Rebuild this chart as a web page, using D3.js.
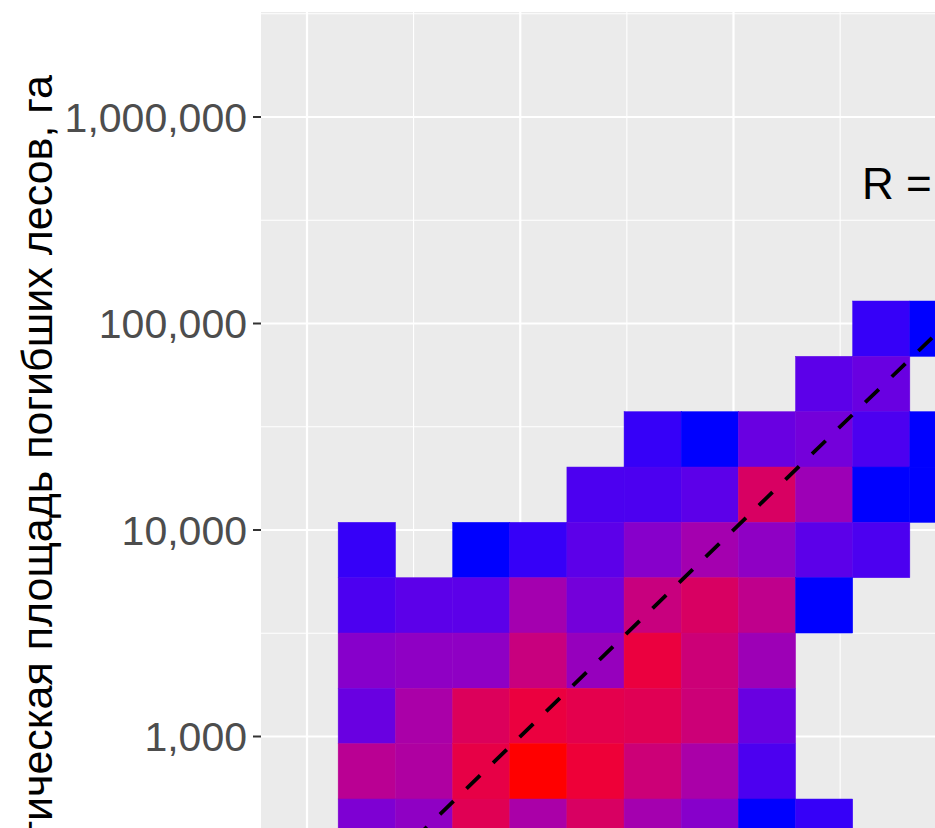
<!DOCTYPE html>
<html>
<head>
<meta charset="utf-8">
<script src="https://cdn.jsdelivr.net/npm/d3@7"></script>
<style>
  body { margin: 0; background: #fff; }
  text { font-family: "Liberation Sans", Arial, sans-serif; }
</style>
</head>
<body>
<script>
// bin edges (ha), log-spaced
var xEdges = [140, 260, 482, 893, 1655, 3068, 5685, 10540, 19540, 36210, 67130, 124400];
var yEdges = [128500, 69340, 37410, 20180, 10890, 5875, 3170, 1710, 923, 498, 268]; // top -> bottom

// counts per bin, rows top -> bottom, 0 = empty
var counts = [
  [0, 0, 0, 0, 0, 0, 0, 0, 0, 2, 1],
  [0, 0, 0, 0, 0, 0, 0, 0, 4, 5, 0],
  [0, 0, 0, 0, 0, 2, 1, 5, 6, 3, 1],
  [0, 0, 0, 0, 3, 3, 4, 23, 11, 1, 1],
  [2, 0, 1, 2, 4, 8, 12, 9, 4, 3, 0],
  [3, 4, 4, 12, 6, 19, 23, 17, 1, 0, 0],
  [8, 9, 9, 19, 10, 28, 20, 11, 0, 0, 0],
  [5, 13, 24, 28, 26, 25, 20, 5, 0, 0, 0],
  [16, 14, 27, 34, 29, 20, 13, 3, 0, 0, 0],
  [7, 9, 25, 13, 23, 12, 8, 1, 2, 0, 0]
];

var yTicks = [1000, 10000, 100000, 1000000];
var yMinor = [3162, 31623, 316228, 3162278];
var xTicks = [100, 1000, 10000, 100000];
var xMinor = [316, 3162, 31623];
var yTitle = "Фактическая площадь погибших лесов, га";
var rLabel = "R =";

var w = 935, h = 828;
var panel = {left: 261, top: 12, right: 1000, bottom: 1000};

var svg = d3.select("body").append("svg")
  .attr("width", w)
  .attr("height", h);

var x = d3.scaleLog().domain([100, 10000]).range([307, 733.5]);
var y = d3.scaleLog().domain([1000, 1000000]).range([736.5, 117]);
var fill = d3.scaleLinear().domain([1, 34]).range(["blue", "red"]).interpolate(d3.interpolateLab);

svg.append("clipPath").attr("id", "clip")
  .append("rect")
  .attr("x", panel.left).attr("y", panel.top)
  .attr("width", panel.right - panel.left).attr("height", panel.bottom - panel.top);

var g = svg.append("g").attr("clip-path", "url(#clip)");

g.append("rect")
  .attr("x", panel.left).attr("y", panel.top)
  .attr("width", panel.right - panel.left).attr("height", panel.bottom - panel.top)
  .attr("fill", "#EBEBEB");

// grid
g.selectAll(".ymin").data(yMinor).enter().append("line")
  .attr("x1", panel.left).attr("x2", panel.right)
  .attr("y1", function(d){ return y(d); }).attr("y2", function(d){ return y(d); })
  .attr("stroke", "#fff").attr("stroke-width", 1.1);
g.selectAll(".xmin").data(xMinor).enter().append("line")
  .attr("y1", panel.top).attr("y2", panel.bottom)
  .attr("x1", function(d){ return x(d); }).attr("x2", function(d){ return x(d); })
  .attr("stroke", "#fff").attr("stroke-width", 1.1);
g.selectAll(".ymaj").data(yTicks).enter().append("line")
  .attr("x1", panel.left).attr("x2", panel.right)
  .attr("y1", function(d){ return y(d); }).attr("y2", function(d){ return y(d); })
  .attr("stroke", "#fff").attr("stroke-width", 2.2);
g.selectAll(".xmaj").data(xTicks).enter().append("line")
  .attr("y1", panel.top).attr("y2", panel.bottom)
  .attr("x1", function(d){ return x(d); }).attr("x2", function(d){ return x(d); })
  .attr("stroke", "#fff").attr("stroke-width", 2.2);

// tiles
var cells = [];
counts.forEach(function(row, i){
  row.forEach(function(c, j){
    if (c > 0) cells.push({x0: xEdges[j], x1: xEdges[j + 1], y0: yEdges[i + 1], y1: yEdges[i], n: c});
  });
});

g.selectAll(".cell").data(cells).enter().append("rect")
  .attr("x", function(d){ return x(d.x0); })
  .attr("y", function(d){ return y(d.y1); })
  .attr("width", function(d){ return x(d.x1) - x(d.x0); })
  .attr("height", function(d){ return y(d.y0) - y(d.y1); })
  .attr("fill", function(d){ return fill(d.n); })
  .attr("stroke", function(d){ return fill(d.n); })
  .attr("stroke-width", 0.5);

// 1:1 line
g.append("line")
  .attr("x1", x(100)).attr("y1", y(100))
  .attr("x2", x(1000000)).attr("y2", y(1000000))
  .attr("stroke", "#000")
  .attr("stroke-width", 3.8)
  .attr("stroke-dasharray", "19,18");

// y axis ticks + labels
svg.selectAll(".tick").data(yTicks).enter().append("line")
  .attr("x1", 253).attr("x2", panel.left)
  .attr("y1", function(d){ return y(d); }).attr("y2", function(d){ return y(d); })
  .attr("stroke", "#333").attr("stroke-width", 2);

svg.selectAll(".tlab").data(yTicks).enter().append("text")
  .attr("x", 247)
  .attr("y", function(d){ return y(d); })
  .attr("dy", "0.36em")
  .attr("text-anchor", "end")
  .attr("font-size", 41)
  .attr("fill", "#4D4D4D")
  .text(function(d){ return d3.format(",")(d); });

svg.append("text")
  .attr("transform", "translate(52,75) rotate(-90)")
  .attr("text-anchor", "end")
  .attr("font-size", 43)
  .attr("fill", "#000")
  .text(yTitle);

svg.append("text")
  .attr("x", 862)
  .attr("y", 199)
  .attr("font-size", 44)
  .attr("fill", "#000")
  .text(rLabel);
</script>
</body>
</html>
